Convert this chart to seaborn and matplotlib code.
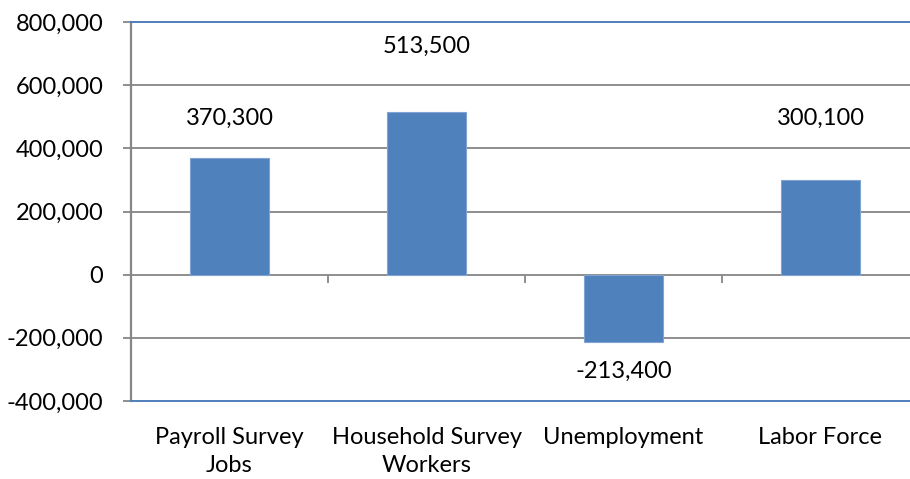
import matplotlib
matplotlib.use("Agg")
import matplotlib.pyplot as plt
import seaborn as sns
import pandas as pd
from matplotlib.ticker import FuncFormatter

categories = ["Payroll Survey\nJobs", "Household Survey\nWorkers", "Unemployment", "Labor Force"]
values = [370300, 513500, -213400, 300100]
label_y = [496000, 724000, -305000, 496000]
yticks = [-400000, -200000, 0, 200000, 400000, 600000, 800000]

sns.set_theme(style="white")
plt.rcParams['font.family'] = ['Lato', 'DejaVu Sans']

BLUE = "#4F81BD"
GRID = "#868686"
FS = 17

fig = plt.figure(figsize=(9.1, 4.79), dpi=100)
ax = fig.add_axes([131/910, 78/479, (919-131)/910, 379/479])

df = pd.DataFrame({"cat": categories, "val": values})
sns.barplot(data=df, x="cat", y="val", color=BLUE, saturation=1, width=0.4, ax=ax,
            zorder=3, linewidth=0.8, edgecolor="#7FA3D3")

ax.set_ylim(-400000, 800000)
ax.set_xlim(-0.5, len(categories) - 0.5)
ax.set_yticks(yticks)
ax.yaxis.set_major_formatter(FuncFormatter(lambda v, p: f"{int(v):,}"))
ax.yaxis.grid(True, color=GRID, linewidth=1.3, zorder=0)
ax.set_axisbelow(True)
ax.set_xlabel("")
ax.set_ylabel("")

ax.spines["right"].set_visible(False)
ax.spines["left"].set_color(GRID)
ax.spines["left"].set_linewidth(1.6)
ax.spines["top"].set_color(BLUE)
ax.spines["top"].set_linewidth(1.4)
ax.spines["bottom"].set_color(BLUE)
ax.spines["bottom"].set_linewidth(1.4)

ax.tick_params(axis="y", which="major", direction="out", length=6, width=1.3, color=GRID,
               left=True, pad=14, labelsize=FS, labelcolor="black")
ax.tick_params(axis="x", which="major", length=0, pad=19, labelsize=FS, labelcolor="black")
for t in ax.get_xticklabels():
    t.set_linespacing(1.4)

# category separator ticks on the zero line
zero_frac = (0 - (-400000)) / (800000 - (-400000))
sec = ax.secondary_xaxis(zero_frac)
sec.set_xticks([i + 0.5 for i in range(len(categories) - 1)])
sec.set_xticklabels([])
sec.tick_params(direction="out", length=6, width=1.3, color=GRID, bottom=True, top=False)
sec.xaxis.set_ticks_position("bottom")
sec.spines["bottom"].set_visible(False)
sec.spines["top"].set_visible(False)

for i, (v, ly) in enumerate(zip(values, label_y)):
    ax.text(i, ly, f"{v:,}", ha="center", va="center", fontsize=FS, color="black")

fig.savefig("out.png", dpi=100)
